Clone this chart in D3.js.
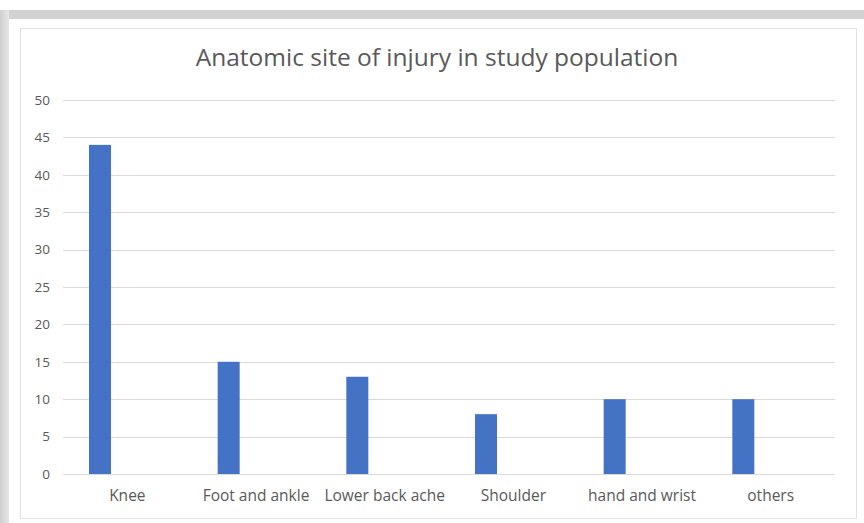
<!DOCTYPE html>
<html>
<head>
<meta charset="utf-8">
<script src="https://cdn.jsdelivr.net/npm/d3@7"></script>
<style>
  html, body { margin: 0; padding: 0; background: #fff; }
  svg { display: block; }
</style>
</head>
<body>
<svg id="chart" width="864" height="523"></svg>
<script>
// Anatomic site of injury: number of cases per site
const categories = ["Knee", "Foot and ankle", "Lower back ache", "Shoulder", "hand and wrist", "others"];
const counts = [44, 15, 13, 8, 10, 10];
const yTicks = [0, 5, 10, 15, 20, 25, 30, 35, 40, 45, 50];
const title = "Anatomic site of injury in study population";

const svg = d3.select("#chart");
const W = 864, H = 523;
const font = "'Open Sans', 'Noto Sans', sans-serif";

// page backdrop: grey frame along the top and left edges
const defs = svg.append("defs");
const grad = defs.append("linearGradient").attr("id", "leftEdge")
  .attr("x1", 0).attr("x2", 1).attr("y1", 0).attr("y2", 0);
grad.append("stop").attr("offset", "0%").attr("stop-color", "#cfcfcf");
grad.append("stop").attr("offset", "100%").attr("stop-color", "#e6e6e6");

svg.append("rect").attr("x", 0).attr("y", 0).attr("width", W).attr("height", H).attr("fill", "#fff");
svg.append("rect").attr("x", 0).attr("y", 10).attr("width", W).attr("height", 9).attr("fill", "#d2d2d2");
svg.append("rect").attr("x", 0).attr("y", 10).attr("width", 9).attr("height", H - 10).attr("fill", "url(#leftEdge)");

// chart area frame
svg.append("rect").attr("x", 20.5).attr("y", 28.5).attr("width", 836).attr("height", 490)
  .attr("fill", "#fff").attr("stroke", "#e3e3e3").attr("stroke-width", 1);

const plot = { left: 63, right: 835, top: 100, bottom: 474 };

const x = d3.scaleBand().domain(categories).range([plot.left, plot.right]).paddingInner(0).paddingOuter(0);
const y = d3.scaleLinear().domain([0, 50]).range([plot.bottom, plot.top]);

// horizontal gridlines
svg.append("g").selectAll("line").data(yTicks).join("line")
  .attr("x1", plot.left).attr("x2", plot.right)
  .attr("y1", d => Math.round(y(d)) + 0.5).attr("y2", d => Math.round(y(d)) + 0.5)
  .attr("stroke", "#d9d9d9").attr("stroke-width", 1);

// y axis labels
const yAxis = d3.axisLeft(y).tickValues(yTicks).tickSize(0).tickPadding(0);
const gy = svg.append("g").attr("transform", `translate(${plot.left - 13},0)`).call(yAxis);
gy.select(".domain").remove();
gy.selectAll("text").attr("font-family", font).attr("font-size", 13.5).attr("fill", "#595959");

// bars sit in the left part of each category slot
const bw = x.bandwidth();
const barOffset = bw * 0.202, barWidth = bw * 0.171;
svg.append("g").selectAll("rect").data(categories.map((c, i) => ({ c, v: counts[i] }))).join("rect")
  .attr("x", d => x(d.c) + barOffset)
  .attr("width", barWidth)
  .attr("y", d => y(d.v))
  .attr("height", d => y(0) - y(d.v))
  .attr("fill", "#4472c4");

// category labels
const xAxis = d3.axisBottom(x).tickSize(0).tickPadding(0);
const gx = svg.append("g").attr("transform", `translate(0,${plot.bottom + 16})`).call(xAxis);
gx.select(".domain").remove();
gx.selectAll("text").attr("font-family", font).attr("font-size", 15.5).attr("fill", "#595959");

// title
svg.append("text").attr("x", 437).attr("y", 66).attr("text-anchor", "middle")
  .attr("font-family", font).attr("font-size", 24.5).attr("fill", "#595959").text(title);
</script>
</body>
</html>
